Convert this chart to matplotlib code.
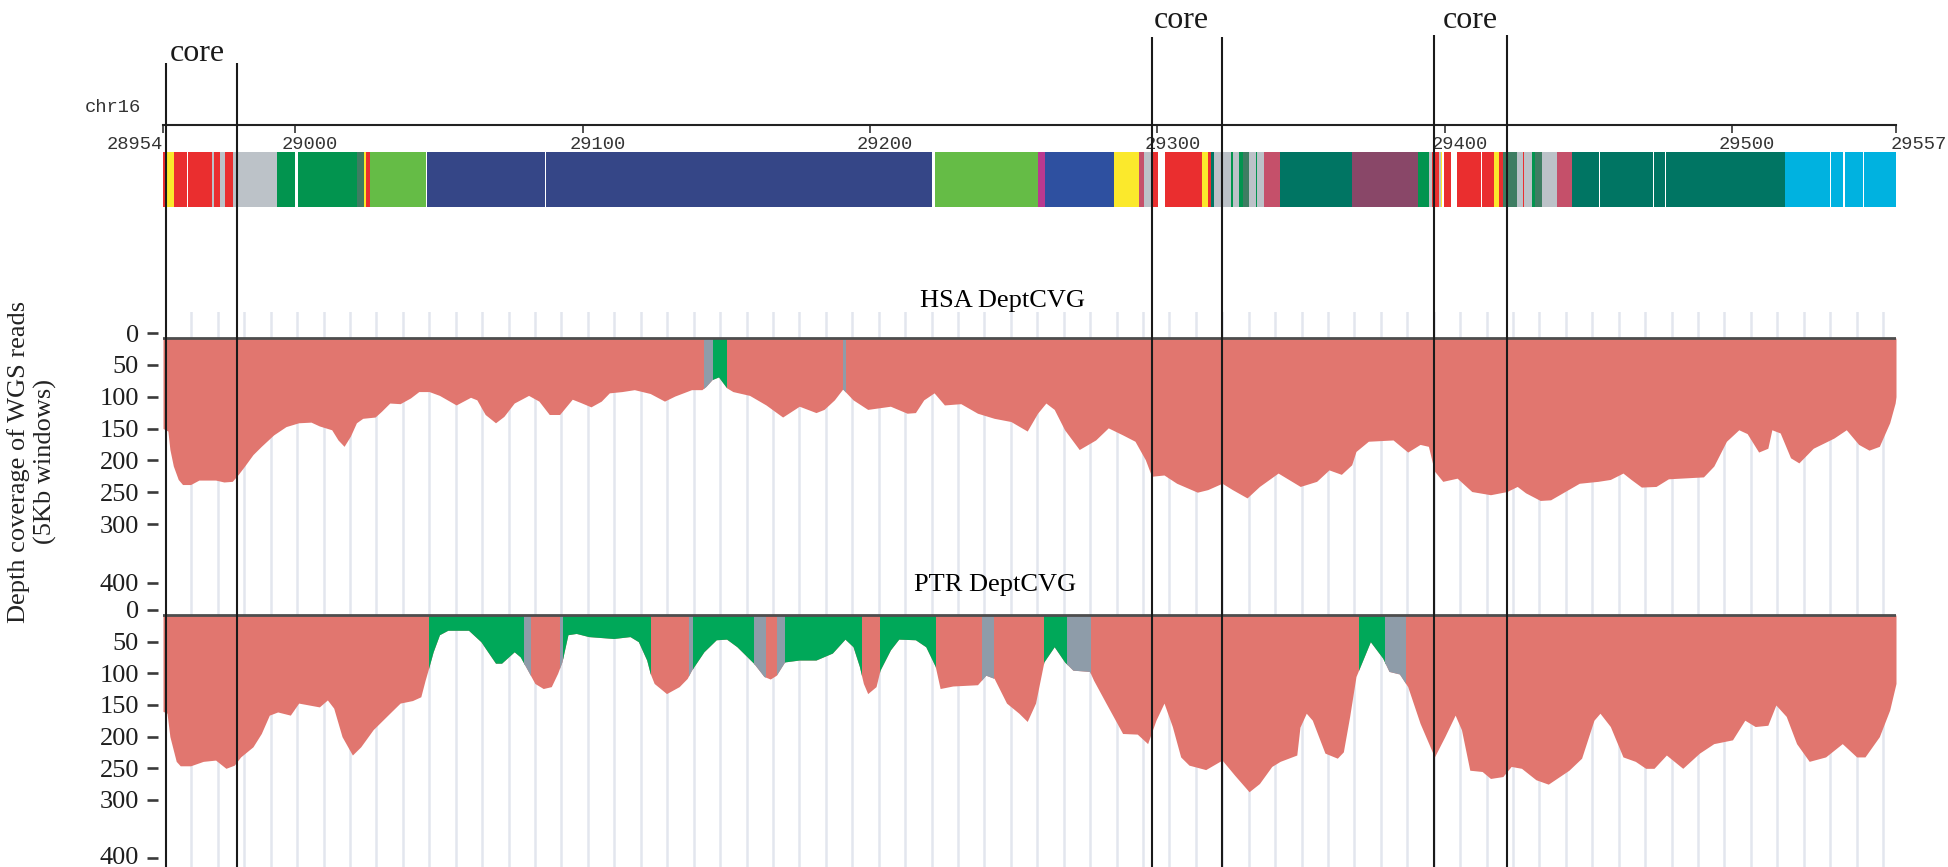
import numpy as np
import matplotlib
matplotlib.use("Agg")
import matplotlib.pyplot as plt
from matplotlib.patches import Rectangle
from matplotlib.transforms import ScaledTranslation

W, H, DPI = 1949, 867, 100

# ------------------------------------------------------------------ data
chrom = "chr16"
x_start, x_end = 28954, 29557
ruler_ticks = [28954, 29000, 29100, 29200, 29300, 29400, 29500, 29557]
y_ticks = [0, 50, 100, 150, 200, 250, 300, 400]

core_start = [28955.0, 29298.1, 29396.2]
core_end = [28979.7, 29322.5, 29421.6]

palette = {
    "red": "#EA2E2F", "yellow": "#FBE92C", "gray": "#BCC2C8", "dkgreen": "#02944F",
    "ltgreen": "#65BC46", "navy": "#354687", "blue": "#2E50A0", "magenta": "#B9398F",
    "pinkred": "#C5506A", "teal": "#007563", "plum": "#894768", "cyan": "#00B2E0",
    "greengray": "#3E7D62",
}

seg_start = [28954.1, 28955.4, 28957.9, 28962.6, 28971.1, 28971.7, 28973.9, 28975.6, 28978.4,
             28993.5, 29001.1, 29021.6, 29023.8, 29024.5, 29026.1, 29045.9, 29087.3,
             29222.7, 29258.6, 29260.8, 29285.0, 29293.7, 29295.4, 29298.0, 29302.6, 29311.4,
             29315.6, 29317.6, 29318.5, 29319.6, 29325.6, 29326.2, 29328.3, 29329.7, 29332.0,
             29334.4, 29334.8, 29337.0, 29340.6, 29342.7, 29367.6, 29390.7, 29394.6, 29395.7,
             29397.9, 29398.6, 29399.6, 29404.2, 29413.0, 29417.0, 29419.0, 29420.2, 29425.2,
             29427.3, 29427.6, 29430.3, 29431.3, 29433.9, 29436.0, 29438.9, 29444.2, 29453.9,
             29472.9, 29476.8, 29518.4, 29534.4, 29539.1, 29545.8]
seg_end = [28955.4, 28957.9, 28962.3, 28971.1, 28971.7, 28973.9, 28975.6, 28978.4, 28993.5,
           29000.0, 29021.6, 29023.8, 29024.5, 29026.0, 29045.6, 29086.9, 29221.5,
           29258.6, 29260.8, 29285.0, 29293.7, 29295.4, 29298.0, 29300.2, 29311.4, 29315.6,
           29317.6, 29318.5, 29319.6, 29325.6, 29326.2, 29328.3, 29329.7, 29332.0, 29334.4,
           29334.8, 29337.0, 29340.6, 29342.7, 29367.6, 29390.7, 29394.6, 29395.7, 29397.9,
           29398.6, 29399.0, 29402.2, 29412.6, 29417.0, 29419.0, 29420.2, 29425.2, 29427.3,
           29427.6, 29430.3, 29431.3, 29433.9, 29436.0, 29438.9, 29444.2, 29453.6, 29472.5,
           29476.6, 29518.4, 29534.0, 29538.7, 29545.5, 29557.0]
seg_color = ["red", "yellow", "red", "red", "gray", "red", "gray", "red", "gray",
             "dkgreen", "dkgreen", "greengray", "yellow", "red", "ltgreen", "navy", "navy",
             "ltgreen", "magenta", "blue", "yellow", "pinkred", "gray", "red", "red", "red",
             "yellow", "red", "teal", "gray", "dkgreen", "gray", "dkgreen", "greengray", "gray",
             "dkgreen", "gray", "pinkred", "pinkred", "teal", "plum", "dkgreen", "gray", "red",
             "gray", "yellow", "red", "red", "red", "yellow", "red", "greengray", "gray",
             "red", "gray", "dkgreen", "greengray", "gray", "gray", "pinkred", "teal", "teal",
             "teal", "teal", "cyan", "cyan", "cyan", "cyan"]

hsa_pos = [28954.0, 28955.7, 28956.4, 28957.6, 28959.3, 28960.8, 28963.6, 28966.5, 28972.3, 28975.2,
           28978.1, 28980.2, 28982.4, 28985.3, 28988.2, 28992.5, 28996.8, 29001.2, 29005.5, 29008.4,
           29012.7, 29014.9, 29017.0, 29019.2, 29021.3, 29023.5, 29027.8, 29030.0, 29032.9, 29036.5,
           29040.1, 29043.0, 29046.6, 29050.2, 29056.0, 29061.0, 29063.2, 29066.1, 29069.7, 29072.6,
           29076.2, 29081.2, 29084.8, 29088.4, 29092.0, 29096.4, 29099.2, 29102.9, 29106.5, 29109.3,
           29113.7, 29118.0, 29123.5, 29128.5, 29132.1, 29137.9, 29141.5, 29142.9, 29145.1, 29147.3,
           29150.1, 29152.3, 29158.1, 29163.8, 29169.6, 29175.4, 29181.2, 29184.0, 29187.6, 29190.5,
           29194.1, 29199.2, 29207.1, 29212.9, 29215.8, 29218.7, 29222.3, 29225.9, 29231.6, 29237.4,
           29243.2, 29249.0, 29254.7, 29258.3, 29261.2, 29264.1, 29267.7, 29272.8, 29278.5, 29282.9,
           29287.9, 29292.2, 29295.8, 29298.0, 29302.3, 29306.7, 29313.9, 29317.5, 29322.5, 29326.1,
           29331.2, 29335.5, 29342.0, 29349.7, 29355.4, 29359.7, 29364.0, 29367.6, 29369.1, 29373.4,
           29382.0, 29387.1, 29391.4, 29394.3, 29396.4, 29399.3, 29404.3, 29409.4, 29415.9, 29421.6,
           29425.2, 29428.1, 29433.2, 29436.8, 29441.8, 29446.8, 29453.3, 29457.6, 29462.0, 29464.8,
           29468.4, 29473.5, 29477.8, 29490.0, 29493.6, 29498.0, 29502.3, 29505.2, 29509.2, 29512.4,
           29513.8, 29516.7, 29520.3, 29523.2, 29528.2, 29535.4, 29539.7, 29544.0, 29547.6, 29551.2,
           29554.8, 29556.7, 29557.0]
hsa_depth = [150, 154, 183, 209, 230, 238, 238, 231, 231, 234,
             233, 222, 209, 191, 178, 160, 147, 141, 140, 146,
             152, 168, 178, 162, 141, 134, 132, 123, 110, 111,
             102, 92, 92, 98, 113, 101, 105, 128, 141, 131,
             110, 98, 107, 128, 128, 104, 109, 116, 107, 94,
             92, 89, 95, 107, 99, 89, 89, 84, 73, 69,
             86, 92, 98, 113, 132, 115, 125, 120, 105, 88,
             105, 120, 115, 126, 125, 105, 94, 113, 111, 126,
             134, 139, 154, 126, 110, 120, 152, 183, 168, 149,
             160, 170, 199, 225, 223, 236, 250, 246, 236, 246,
             259, 241, 220, 241, 233, 215, 222, 207, 186, 170,
             168, 187, 175, 178, 217, 233, 228, 249, 254, 249,
             241, 251, 263, 262, 249, 236, 233, 230, 220, 230,
             242, 241, 229, 226, 209, 170, 152, 158, 187, 181,
             152, 157, 196, 204, 181, 165, 152, 175, 184, 178,
             141, 110, 100]
hsa_reg_start = [29142.2, 29145.2, 29190.6]
hsa_reg_end = [29145.2, 29149.9, 29191.2]
hsa_reg_color = ["gray", "green", "gray"]

ptr_pos = [28954.0, 28955.4, 28956.4, 28958.6, 28960.0, 28963.6, 28968.0, 28972.3, 28975.9, 28978.8,
           28981.0, 28985.3, 28988.2, 28991.0, 28993.9, 28998.3, 29001.2, 29004.8, 29008.4, 29011.2,
           29013.4, 29016.3, 29019.9, 29022.8, 29027.1, 29032.9, 29036.5, 29040.8, 29043.7, 29045.2,
           29046.6, 29048.0, 29050.2, 29053.1, 29060.3, 29064.6, 29069.7, 29071.8, 29076.2, 29078.3,
           29080.5, 29083.4, 29086.3, 29089.1, 29091.3, 29092.8, 29094.9, 29097.8, 29102.1, 29110.8,
           29116.5, 29119.4, 29122.3, 29123.5, 29124.9, 29129.2, 29133.6, 29136.4, 29137.9, 29142.2,
           29146.5, 29150.1, 29153.7, 29159.5, 29163.1, 29165.3, 29167.4, 29170.3, 29175.4, 29181.2,
           29186.9, 29191.3, 29194.1, 29196.3, 29197.7, 29199.2, 29202.1, 29203.5, 29207.1, 29210.0,
           29215.8, 29219.4, 29222.7, 29224.4, 29228.8, 29237.4, 29240.3, 29243.2, 29247.5, 29251.8,
           29254.7, 29257.6, 29260.5, 29264.1, 29267.7, 29270.6, 29276.4, 29277.8, 29282.1, 29287.9,
           29293.0, 29296.6, 29299.5, 29302.3, 29305.2, 29308.1, 29311.0, 29316.8, 29322.5, 29326.9,
           29331.9, 29335.5, 29339.8, 29342.7, 29348.5, 29349.6, 29351.8, 29353.9, 29358.3, 29362.6,
           29364.7, 29366.9, 29369.1, 29371.2, 29374.1, 29378.4, 29380.6, 29384.2, 29387.1, 29391.4,
           29396.4, 29400.0, 29403.6, 29405.8, 29408.7, 29413.0, 29415.9, 29420.2, 29423.1, 29426.7,
           29431.7, 29436.0, 29443.2, 29447.6, 29451.9, 29454.0, 29457.6, 29462.0, 29466.3, 29469.9,
           29472.8, 29477.1, 29482.8, 29488.6, 29493.6, 29500.1, 29504.4, 29508.0, 29512.4, 29515.2,
           29518.8, 29522.4, 29526.8, 29532.5, 29538.3, 29543.3, 29546.2, 29551.2, 29554.8, 29557.0]
ptr_depth = [160, 163, 200, 239, 246, 246, 239, 237, 250, 245,
             232, 216, 195, 166, 161, 166, 147, 150, 153, 142,
             155, 200, 229, 216, 189, 163, 147, 143, 137, 111,
             89, 66, 39, 32, 32, 50, 84, 84, 66, 74,
             92, 116, 124, 121, 100, 82, 39, 37, 42, 45,
             42, 50, 79, 100, 116, 132, 121, 108, 95, 66,
             47, 46, 58, 84, 105, 109, 103, 82, 79, 79,
             68, 46, 58, 89, 116, 132, 121, 95, 63, 46,
             47, 58, 89, 124, 120, 118, 103, 108, 147, 163,
             176, 147, 82, 58, 82, 95, 97, 111, 147, 195,
             196, 211, 174, 147, 184, 232, 245, 252, 237, 261,
             287, 274, 247, 239, 229, 185, 163, 174, 226, 234,
             224, 168, 105, 82, 50, 76, 97, 101, 121, 179,
             232, 200, 166, 189, 253, 255, 266, 263, 247, 250,
             268, 275, 253, 234, 174, 163, 184, 232, 239, 250,
             250, 229, 250, 226, 211, 205, 174, 184, 182, 150,
             168, 211, 239, 232, 211, 232, 232, 200, 158, 116]
ptr_reg_start = [29046.6, 29079.6, 29092.1, 29093.2, 29137.0, 29138.4, 29159.6, 29167.6, 29170.4,
                 29203.5, 29239.0, 29260.5, 29268.5, 29370.2, 29379.2]
ptr_reg_end = [29079.6, 29081.7, 29093.2, 29123.5, 29138.4, 29159.6, 29163.5, 29170.4, 29196.9,
               29222.6, 29242.8, 29268.5, 29276.5, 29379.2, 29386.1]
ptr_reg_color = ["green", "gray", "gray", "green", "gray", "green", "gray", "gray", "green",
                 "green", "gray", "green", "gray", "green", "gray"]

# guide lines (5 kb windows)
grid_first, grid_step, grid_n = 28963.9, 9.197, 65

# ------------------------------------------------------------------ style
SALMON = "#E1766F"
fill_colors = {"green": "#00A859", "gray": "#8E9CA9"}
BASE = 8
plt.rcParams["font.family"] = ["Liberation Serif", "DejaVu Serif"]

fig = plt.figure(figsize=(W / DPI, H / DPI), dpi=DPI)
fig.patch.set_facecolor("white")

def px_axes(x0, y0, x1, y1, **kw):
    return fig.add_axes([x0 / W, 1 - y1 / H, (x1 - x0) / W, (y1 - y0) / H], **kw)

def px_shift(dx, dy=0):
    return ScaledTranslation(dx / DPI, -dy / DPI, fig.dpi_scale_trans)

X0, X1 = 163, 1896

# ---------------- ruler
axr = px_axes(X0, 95, X1, 125)
axr.set_facecolor("none")
axr.set_xlim(x_start, x_end)
axr.set_ylim(0, 1)
for s in ["top", "left", "right"]:
    axr.spines[s].set_visible(False)
axr.spines["bottom"].set_linewidth(1.5)
axr.spines["bottom"].set_color("#222222")
axr.set_yticks([])
axr.set_xticks(ruler_ticks)
axr.set_xticklabels([str(t) for t in ruler_ticks])
axr.tick_params(axis="x", direction="out", length=5.5, width=1.2, color="#333333",
                pad=2.5, labelsize=13.5, labelcolor="#333333")
ticks = axr.xaxis.get_major_ticks()
for i, tk in enumerate(ticks):
    lbl = tk.label1
    lbl.set_fontfamily("Liberation Mono")
    if i == 0:
        lbl.set_horizontalalignment("right")
    elif i == len(ticks) - 1:
        lbl.set_horizontalalignment("left")
        lbl.set_transform(lbl.get_transform() + px_shift(-5))
    else:
        lbl.set_transform(lbl.get_transform() + px_shift(15))
fig.text(85 / W, 1 - 108 / H, chrom, ha="left", va="center", fontsize=13.5,
         family="Liberation Mono", color="#333333")

# ---------------- segment bar
axs = px_axes(X0, 152, X1, 207)
axs.set_xlim(x_start, x_end)
axs.set_ylim(0, 1)
axs.axis("off")
widths = [e - s for s, e in zip(seg_start, seg_end)]
axs.bar(seg_start, 1, width=widths, bottom=0, align="edge",
        color=[palette[c] for c in seg_color], linewidth=0)

# ---------------- coverage tracks
def fwd(v):
    v = np.asarray(v, dtype=float)
    return np.where(v <= 300, v, 300 + (v - 300) * 0.92)

def inv(t):
    t = np.asarray(t, dtype=float)
    return np.where(t <= 300, t, 300 + (t - 300) / 0.92)

grid_x = grid_first + grid_step * np.arange(grid_n)

def draw_track(y0, y1, zero_px, ppu, pos, depth, rs, re, rc, last_dy=0):
    ax = px_axes(X0, y0, X1, y1)
    ax.set_facecolor("none")
    ax.set_yscale("function", functions=(fwd, inv))
    t_top = (y0 - zero_px) / ppu
    t_bot = (y1 - zero_px) / ppu
    ax.set_ylim(float(inv(t_bot)), float(inv(t_top)))
    ax.set_xlim(x_start, x_end)
    for s in ax.spines.values():
        s.set_visible(False)
    ax.spines["left"].set_position(("outward", 3.6))
    ax.set_xticks(grid_x)
    ax.tick_params(axis="x", length=0, labelbottom=False)
    ax.grid(axis="x", color="#E3E6EE", linewidth=1.8)
    ax.set_axisbelow(True)
    ax.set_yticks(y_ticks)
    ax.set_yticklabels([str(t) for t in y_ticks])
    ax.yaxis.set_minor_locator(matplotlib.ticker.NullLocator())
    ax.tick_params(axis="y", direction="out", length=7.9, width=1.9, color="#3a3a3a",
                   pad=5.8, labelsize=19, labelcolor="#1e1e1e")
    last = ax.yaxis.get_major_ticks()[-1]
    last.tick1line.set_color("#9FB0C3")
    if last_dy:
        last.label1.set_transform(last.label1.get_transform() + px_shift(0, last_dy))
    ax.fill_between(pos, BASE, depth, color=SALMON, linewidth=0, zorder=2)
    for a, b, c in zip(rs, re, rc):
        poly = ax.fill_between(pos, BASE, depth, color=fill_colors[c], linewidth=0, zorder=2.1)
        rect = Rectangle((a, -100), b - a, 700, transform=ax.transData)
        poly.set_clip_path(rect)
    ax.axhline(BASE, color="#4d4d4d", linewidth=2.0, zorder=3)
    return ax

draw_track(312, 596, 333, 0.6367, hsa_pos, hsa_depth, hsa_reg_start, hsa_reg_end, hsa_reg_color)
draw_track(596, 867, 610, 0.6333, ptr_pos, ptr_depth, ptr_reg_start, ptr_reg_end, ptr_reg_color,
           last_dy=-3)

fig.text(1003 / W, 1 - 307 / H, "HSA DeptCVG", ha="center", va="baseline", fontsize=19)
fig.text(995 / W, 1 - 591 / H, "PTR DeptCVG", ha="center", va="baseline", fontsize=19)
fig.text(32 / W, 1 - 462 / H, "Depth coverage of WGS reads\n(5Kb windows)", rotation=90,
         ha="center", va="center", fontsize=19, linespacing=1.2, color="#222222")

# ---------------- core boundaries overlay
axo = px_axes(X0, 0, X1, H)
axo.set_facecolor("none")
axo.set_zorder(10)
axo.set_xlim(x_start, x_end)
axo.set_ylim(H, 0)
axo.axis("off")
core_top_px = [63, 37, 35]
core_label_px = [61, 28, 28]
core_label_dx = [-4, -6, 0]
for s, e, top, ly, dx in zip(core_start, core_end, core_top_px, core_label_px, core_label_dx):
    axo.vlines([s, e], top, H, color="#1a1a1a", linewidth=1.5, clip_on=False)
    axo.text((s + e) / 2, ly, "core", ha="center", va="baseline", fontsize=23, color="#1a1a1a",
             transform=axo.transData + px_shift(dx))

fig.savefig("out.png", dpi=DPI, facecolor="white")
